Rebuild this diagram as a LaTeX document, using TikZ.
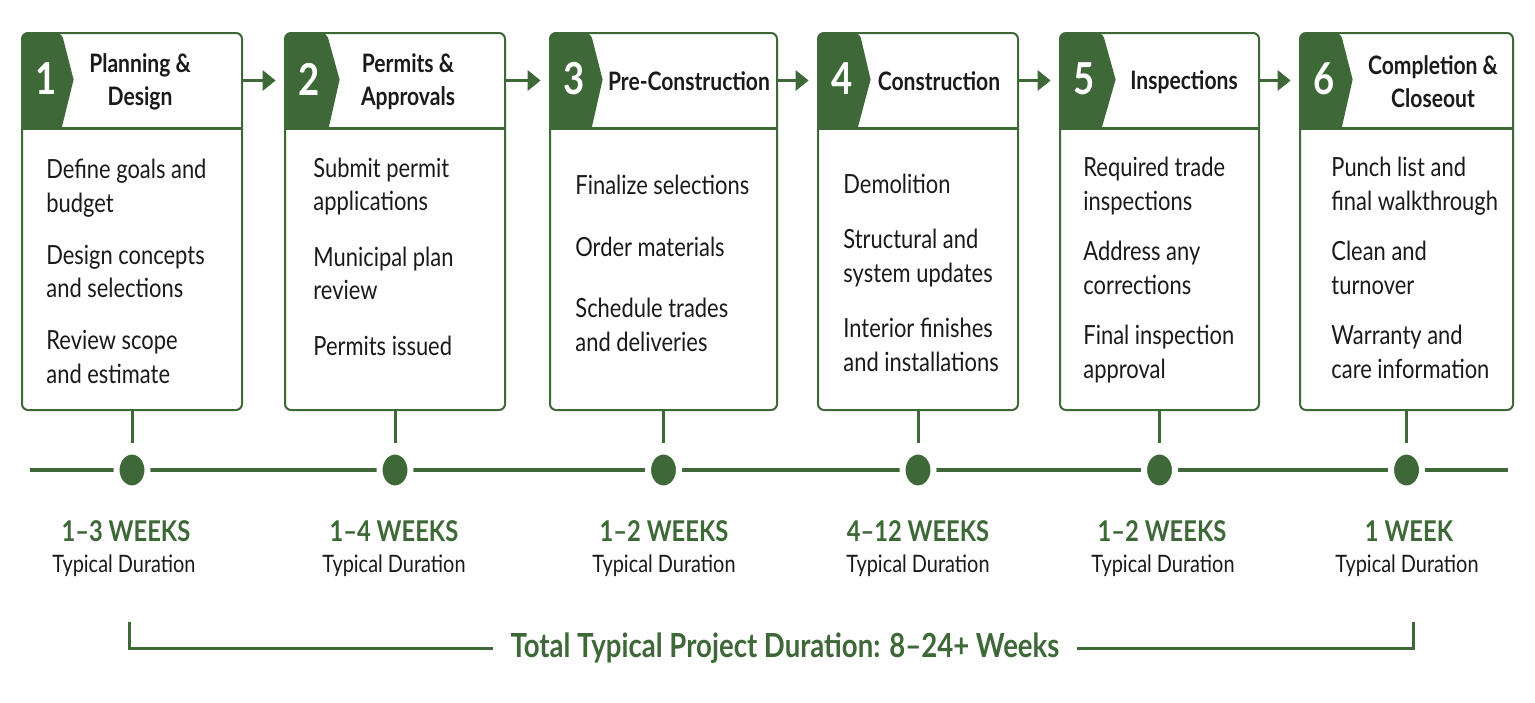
\documentclass[tikz,border=0pt]{standalone}
\usepackage{fontspec}
\setmainfont{Lato}[FakeStretch=0.83]
\usetikzlibrary{arrows.meta,shapes.geometric,positioning}
\definecolor{leaf}{RGB}{62,104,56}
\definecolor{ink}{RGB}{26,26,26}
\begin{document}
\begin{tikzpicture}[x=0.5pt,y=-0.5pt]

                \tikzset{stage/.style = {draw=leaf,line width=1pt,rounded corners=3pt,minimum height=188.5pt,inner sep=0pt}}
                \tikzset{head/.style = {minimum height=47.5pt,inner sep=0pt}}
                \tikzset{tab/.style = {fill=leaf}}
                \tikzset{rule/.style = {draw=leaf,line width=1.1pt}}
                \tikzset{num/.style = {text=white,font=\bfseries\fontsize{22pt}{24pt}\selectfont,inner sep=0pt}}
                \tikzset{title/.style = {text=ink,align=center,font=\bfseries\fontsize{12.7pt}{16.5pt}\selectfont,inner sep=0pt}}
                \tikzset{items/.style = {text=ink,align=left,font=\fontsize{13.2pt}{16.75pt}\selectfont,inner sep=0pt,anchor=base west}}
                \tikzset{flow/.style = {-{Triangle[length=6.5pt,width=10pt]},draw=leaf,line width=1.75pt,shorten >=4.5pt}}
                \tikzset{stem/.style = {draw=leaf,line width=1.5pt,shorten >=3pt}}
                \tikzset{track/.style = {draw=leaf,line width=2.4pt}}
                \tikzset{dot/.style = {ellipse,fill=leaf,draw=white,line width=3pt,minimum width=15.5pt,minimum height=18.5pt,inner sep=0pt}}
                \tikzset{weeks/.style = {text=leaf,font=\bfseries\fontsize{14.3pt}{16pt}\selectfont,inner sep=0pt}}
                \tikzset{dur/.style = {text=ink,font=\fontsize{12pt}{14pt}\selectfont,inner sep=0pt}}
                \tikzset{total/.style = {text=leaf,font=\bfseries\fontsize{16.6pt}{20pt}\selectfont,inner xsep=8.5pt}}
                \tikzset{bracket/.style = {draw=leaf,line width=1.5pt}}

                \fill[white] (0,0) rectangle (1535,702);
                \useasboundingbox (0,0) rectangle (1535,702);

                % stage headers
                \node[head,minimum width=110pt] (h1) at (132,80.5) {};
                \node[head,minimum width=110pt] (h2) at (395,80.5) {};
                \node[head,minimum width=113.5pt] (h3) at (663.5,80.5) {};
                \node[head,minimum width=100pt] (h4) at (918,80.5) {};
                \node[head,minimum width=99.5pt] (h5) at (1159.5,80.5) {};
                \node[head,minimum width=106.5pt] (h6) at (1406.5,80.5) {};

                \fill[tab] (h1.south west) [rounded corners=3pt] -- (h1.north west) -- ++(40,0) [sharp corners] -- ++(12,47) -- ([xshift=20pt]h1.south west) -- cycle;
                \fill[tab] (h2.south west) [rounded corners=3pt] -- (h2.north west) -- ++(42,0) [sharp corners] -- ++(13,47) -- ([xshift=22pt]h2.south west) -- cycle;
                \fill[tab] (h3.south west) [rounded corners=3pt] -- (h3.north west) -- ++(41,0) [sharp corners] -- ++(12,47) -- ([xshift=21pt]h3.south west) -- cycle;
                \fill[tab] (h4.south west) [rounded corners=3pt] -- (h4.north west) -- ++(42,0) [sharp corners] -- ++(11,47) -- ([xshift=20pt]h4.south west) -- cycle;
                \fill[tab] (h5.south west) [rounded corners=3pt] -- (h5.north west) -- ++(43,0) [sharp corners] -- ++(13,47) -- ([xshift=21pt]h5.south west) -- cycle;
                \fill[tab] (h6.south west) [rounded corners=3pt] -- (h6.north west) -- ++(41,0) [sharp corners] -- ++(12,47) -- ([xshift=21pt]h6.south west) -- cycle;

                \draw[rule] (h1.south west) -- (h1.south east);
                \draw[rule] (h2.south west) -- (h2.south east);
                \draw[rule] (h3.south west) -- (h3.south east);
                \draw[rule] (h4.south west) -- (h4.south east);
                \draw[rule] (h5.south west) -- (h5.south east);
                \draw[rule] (h6.south west) -- (h6.south east);

                % stage boxes
                \node[stage,minimum width=110pt] (b1) at (132,221.5) {};
                \node[stage,minimum width=110pt] (b2) at (395,221.5) {};
                \node[stage,minimum width=113.5pt] (b3) at (663.5,221.5) {};
                \node[stage,minimum width=100pt] (b4) at (918,221.5) {};
                \node[stage,minimum width=99.5pt] (b5) at (1159.5,221.5) {};
                \node[stage,minimum width=106.5pt] (b6) at (1406.5,221.5) {};

                \node[num] (n1) at (46,79) {1};
                \node[num] (n2) at (309,79) {2};
                \node[num] (n3) at (574,79) {3};
                \node[num] (n4) at (842,79) {4};
                \node[num] (n5) at (1084,79) {5};
                \node[num] (n6) at (1324,79) {6};

                \node[title] (t1) at (140,82) {Planning \&\\Design};
                \node[title] (t2) at (408,82) {Permits \&\\Approvals};
                \node[title] (t3) at (689,81) {Pre-Construction};
                \node[title] (t4) at (939,81) {Construction};
                \node[title] (t5) at (1184,82) {Inspections};
                \node[title] (t6) at (1433,82) {Completion \&\\Closeout};

                % base of the last line in each list
                \node[items] (i1) at (46,383) {Define goals and\\budget\\[9.25pt]Design concepts\\and selections\\[9.25pt]Review scope\\and estimate};
                \node[items] (i2) at (313,355) {Submit permit\\applications\\[11pt]Municipal plan\\review\\[11pt]Permits issued};
                \node[items] (i3) at (575,351) {Finalize selections\\[14pt]Order materials\\[14pt]Schedule trades\\and deliveries};
                \node[items] (i4) at (843,371) {Demolition\\[11pt]Structural and\\system updates\\[11pt]Interior finishes\\and installations};
                \node[items] (i5) at (1083,378) {Required trade\\inspections\\[8.5pt]Address any\\corrections\\[8.5pt]Final inspection\\approval};
                \node[items] (i6) at (1331,378) {Punch list and\\final walkthrough\\[8.5pt]Clean and\\turnover\\[8.5pt]Warranty and\\care information};

                \draw[flow] (h1) -- (h2);
                \draw[flow] (h2) -- (h3);
                \draw[flow] (h3) -- (h4);
                \draw[flow] (h4) -- (h5);
                \draw[flow] (h5) -- (h6);

                % timeline
                \coordinate (tl0) at (30,470);
                \coordinate (tl1) at (1508,470);
                \draw[track] (tl0) -- (tl1);

                \node[dot] (d1) at (132,470) {};
                \node[dot] (d2) at (395,470) {};
                \node[dot] (d3) at (663.5,470) {};
                \node[dot] (d4) at (918,470) {};
                \node[dot] (d5) at (1159.5,470) {};
                \node[dot] (d6) at (1406.5,470) {};

                \draw[stem] (b1) -- (d1);
                \draw[stem] (b2) -- (d2);
                \draw[stem] (b3) -- (d3);
                \draw[stem] (b4) -- (d4);
                \draw[stem] (b5) -- (d5);
                \draw[stem] (b6) -- (d6);

                \node[weeks] (w1) at (126,531) {1--3 WEEKS};
                \node[weeks] (w2) at (394,531) {1--4 WEEKS};
                \node[weeks] (w3) at (664,531) {1--2 WEEKS};
                \node[weeks] (w4) at (918,531) {4--12 WEEKS};
                \node[weeks] (w5) at (1162,531) {1--2 WEEKS};
                \node[weeks] (w6) at (1409,531) {1 WEEK};

                \node[dur] (u1) at (124,566) {Typical Duration};
                \node[dur] (u2) at (394,566) {Typical Duration};
                \node[dur] (u3) at (664,566) {Typical Duration};
                \node[dur] (u4) at (918,566) {Typical Duration};
                \node[dur] (u5) at (1163,566) {Typical Duration};
                \node[dur] (u6) at (1407,566) {Typical Duration};

                % total duration bracket
                \coordinate (bl) at (129,622);
                \coordinate (br) at (1413,622);
                \node[total] (tot) at (785,648) {Total Typical Project Duration: 8--24+ Weeks};
                \draw[bracket] (bl) |- (tot.west);
                \draw[bracket] (br) |- (tot.east);

            \end{tikzpicture}
\end{document}
